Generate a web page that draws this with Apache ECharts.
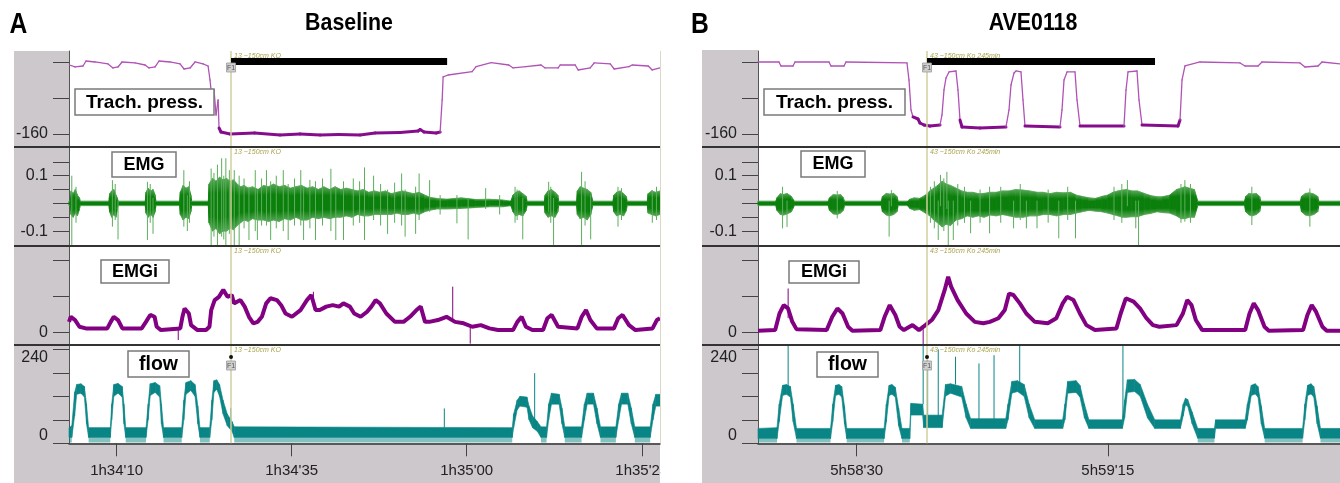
<!DOCTYPE html>
<html><head><meta charset="utf-8">
<script src="https://cdn.jsdelivr.net/npm/echarts@6/dist/echarts.min.js"></script>
<style>html,body{margin:0;padding:0;background:#fff}#c{width:1340px;height:483px}</style>
</head><body><div id="c"></div>
<script>
// ---------------- DATA (time in s from start of each recording window) ----------------
const spanA = 84.4, spanB = 104.3;
const timeTicksA = [6.8, 31.8, 56.8, 81.8];
const timeLabelsA = ["1h34'10", "1h34'35", "1h35'00", "1h35'25"];
const timeTicksB = [17.69, 62.69];
const timeLabelsB = ["5h58'30", "5h59'15"];
const markA = 23.14, markB = 30.29;          // event marker (occlusion start)
const occlA = [23.14, 54.0], occlB = [30.29, 71.15]; // black bars (occlusion period)
const markTextA = "13 ~150cm KO", markTextB = "43 ~150cm Ko 245min";

// Tracheal pressure [t, value]
const pressA = [[0.07,-6.7],[0.86,-11.1],[2.0,-8.9],[2.43,2.2],[3.71,0],[5.57,-4.4],[6.29,-13.3],[7.0,-11.1],[7.57,0],[9.43,-2.2],[10.86,-6.7],[11.43,-13.3],[12.29,-11.1],[12.86,2.2],[14.43,0],[15.86,-4.4],[16.43,-15.6],[17.29,-13.3],[18.0,0],[19.14,-4.4],[19.86,-8.9],[20.14,-40],[20.43,-84.4],[20.71,-62.2],[21.0,-117.8],[21.29,-84.4],[21.43,-146.7],[21.71,-155.6],[23.0,-160],[26.5,-158],[30.14,-162],[33,-160],[35.86,-162],[38.5,-161],[41.57,-162],[43.71,-157.8],[47.29,-156.7],[49.86,-153.3],[50.14,-150],[50.71,-155.6],[52.43,-157.8],[53.0,-155.6],[53.29,-84.4],[53.43,-33.3],[54.14,-28.9],[57.57,-21.6],[58.14,-10.4],[60.29,-1.6],[62.8,-6.7],[63.43,-13.3],[65.26,-10.4],[67.4,-6.7],[68.0,-13.3],[69.86,-13.3],[70.14,-6.7],[72.29,-6.7],[72.71,-17.8],[74.43,-13.3],[75.0,-2.2],[77.29,-4.4],[77.86,-15.6],[79.97,-10.4],[80.43,-6.7],[82.71,-8.9],[83.29,-17.8],[84.4,-13.3]];
const pressB = [[0,0],[3.76,0],[4.12,-8.9],[6.27,-8.9],[6.63,0],[12.72,0],[13.08,-8.9],[15.41,-8.9],[15.77,0],[26.7,-2.2],[27.06,-40],[27.42,-106.7],[27.78,-122.2],[28.67,-126.7],[29.03,-135.6],[29.75,-140],[30.82,-142.2],[32.62,-140],[32.97,-117.8],[33.33,-62.2],[33.69,-35.6],[34.23,-22.2],[35.48,-20],[35.84,-62.2],[36.2,-128.9],[36.56,-144.4],[39.78,-146.7],[44.44,-144.4],[44.98,-106.7],[45.34,-51.1],[45.88,-24.4],[46.24,-20],[47.13,-22.2],[47.49,-84.4],[47.85,-142.2],[54.12,-144.4],[54.48,-106.7],[54.84,-40],[55.38,-22.2],[56.81,-22.2],[57.17,-84.4],[57.71,-142.2],[65.59,-142.2],[65.95,-62.2],[66.31,-22.2],[67.92,-20],[68.28,-84.4],[68.82,-140],[75.27,-142.2],[75.63,-128.9],[75.99,-40],[76.52,-8.9],[79.21,0],[86.38,-2.2],[87.28,-8.9],[89.61,-8.9],[90.32,0],[97.13,-2.2],[98.03,-11.1],[100.36,-8.9],[101.08,0],[104.3,-4.4]];

// EMG envelope [t, low, high]
const emgA = [[0,-0.008,0.008],[0.2,-0.008,0.008],[0.3,-0.04,0.045],[0.6,-0.05,0.035],[0.9,-0.035,0.05],[1.2,-0.045,0.03],[1.5,-0.02,0.02],[1.6,-0.008,0.008],[5.7,-0.008,0.008],[5.8,-0.03,0.035],[6.1,-0.05,0.045],[6.4,-0.04,0.05],[6.7,-0.05,0.03],[6.9,-0.02,0.02],[7.0,-0.008,0.008],[10.9,-0.008,0.008],[11.0,-0.035,0.04],[11.3,-0.05,0.055],[11.7,-0.04,0.045],[12.0,-0.05,0.05],[12.3,-0.03,0.03],[12.4,-0.008,0.008],[15.8,-0.008,0.008],[15.9,-0.04,0.04],[16.3,-0.06,0.065],[16.7,-0.05,0.055],[17.1,-0.055,0.06],[17.4,-0.03,0.03],[17.5,-0.008,0.008],[19.9,-0.008,0.008],[20.0,-0.07,0.07],[20.5,-0.1,0.09],[21.0,-0.09,0.08],[21.5,-0.11,0.095],[22.0,-0.1,0.085],[22.5,-0.1,0.09],[23.0,-0.09,0.08],[23.5,-0.095,0.085],[24.0,-0.08,0.07],[24.5,-0.07,0.06],[25.0,-0.06,0.065],[25.6,-0.065,0.055],[26.2,-0.055,0.06],[27.0,-0.06,0.05],[27.8,-0.06,0.065],[28.5,-0.065,0.06],[29.2,-0.06,0.07],[30.0,-0.065,0.06],[30.8,-0.055,0.065],[31.6,-0.06,0.055],[32.4,-0.05,0.06],[33.2,-0.06,0.065],[34.0,-0.06,0.055],[34.8,-0.05,0.06],[35.6,-0.055,0.05],[36.4,-0.05,0.06],[37.2,-0.055,0.05],[38.0,-0.05,0.06],[38.8,-0.05,0.05],[39.6,-0.045,0.055],[40.4,-0.05,0.05],[41.2,-0.04,0.045],[42.0,-0.045,0.05],[42.8,-0.045,0.04],[43.6,-0.04,0.045],[44.4,-0.04,0.04],[45.2,-0.04,0.045],[46.0,-0.04,0.035],[46.8,-0.035,0.04],[47.6,-0.04,0.045],[48.4,-0.04,0.04],[49.2,-0.035,0.035],[50.0,-0.04,0.04],[50.8,-0.03,0.03],[51.5,-0.025,0.022],[52.5,-0.02,0.018],[54.0,-0.02,0.015],[56.0,-0.018,0.02],[58.0,-0.015,0.014],[60.0,-0.012,0.015],[62.0,-0.012,0.012],[63.1,-0.008,0.008],[63.4,-0.03,0.03],[63.8,-0.045,0.04],[64.3,-0.04,0.045],[64.8,-0.045,0.035],[65.3,-0.025,0.025],[65.4,-0.008,0.008],[67.9,-0.008,0.008],[68.0,-0.035,0.03],[68.4,-0.05,0.045],[68.9,-0.045,0.05],[69.4,-0.05,0.04],[69.8,-0.03,0.03],[69.9,-0.008,0.008],[72.5,-0.008,0.008],[72.6,-0.04,0.045],[73.0,-0.055,0.06],[73.5,-0.05,0.055],[74.0,-0.06,0.05],[74.5,-0.04,0.04],[74.8,-0.008,0.008],[77.7,-0.008,0.008],[77.8,-0.03,0.03],[78.2,-0.045,0.04],[78.7,-0.04,0.045],[79.2,-0.045,0.035],[79.6,-0.025,0.025],[79.7,-0.008,0.008],[82.6,-0.008,0.008],[82.7,-0.035,0.035],[83.2,-0.04,0.045],[83.8,-0.045,0.04],[84.4,-0.04,0.045]];
const emgB = [[0,-0.008,0.008],[3.2,-0.008,0.008],[3.4,-0.025,0.02],[4.0,-0.04,0.035],[4.6,-0.042,0.032],[5.2,-0.038,0.036],[6.0,-0.03,0.025],[6.5,-0.008,0.008],[12.6,-0.008,0.008],[12.8,-0.025,0.02],[13.5,-0.038,0.032],[14.2,-0.04,0.03],[14.8,-0.035,0.032],[15.3,-0.025,0.02],[15.5,-0.008,0.008],[22.1,-0.008,0.008],[22.3,-0.03,0.025],[23.0,-0.042,0.036],[23.6,-0.045,0.034],[24.3,-0.04,0.036],[24.9,-0.03,0.025],[25.1,-0.008,0.008],[26.8,-0.008,0.008],[27.2,-0.018,0.015],[28.0,-0.025,0.02],[29.0,-0.022,0.018],[30.0,-0.035,0.03],[30.8,-0.045,0.045],[31.5,-0.06,0.055],[32.2,-0.07,0.065],[33.0,-0.085,0.08],[33.7,-0.075,0.07],[34.5,-0.08,0.065],[35.5,-0.06,0.055],[36.5,-0.055,0.045],[37.5,-0.045,0.04],[38.5,-0.05,0.04],[39.5,-0.045,0.035],[40.5,-0.05,0.036],[41.6,-0.042,0.04],[42.7,-0.045,0.04],[43.8,-0.04,0.045],[45.0,-0.045,0.045],[46.2,-0.05,0.05],[47.5,-0.05,0.048],[48.7,-0.045,0.045],[50.0,-0.045,0.04],[51.1,-0.04,0.04],[52.3,-0.04,0.035],[53.5,-0.045,0.04],[54.8,-0.04,0.038],[56.0,-0.04,0.04],[57.0,-0.035,0.03],[58.1,-0.03,0.025],[59.3,-0.025,0.02],[60.5,-0.028,0.018],[61.6,-0.03,0.025],[62.7,-0.035,0.03],[63.6,-0.04,0.04],[64.5,-0.045,0.045],[65.3,-0.05,0.048],[66.0,-0.05,0.05],[67.0,-0.048,0.045],[68.0,-0.048,0.045],[69.2,-0.04,0.036],[70.4,-0.036,0.028],[71.5,-0.03,0.024],[72.5,-0.033,0.024],[73.8,-0.035,0.03],[75.0,-0.045,0.05],[75.8,-0.055,0.055],[76.5,-0.055,0.06],[77.3,-0.05,0.055],[78.2,-0.05,0.05],[78.8,-0.008,0.008],[87.2,-0.008,0.008],[87.4,-0.03,0.025],[88.0,-0.042,0.036],[88.6,-0.045,0.034],[89.3,-0.04,0.036],[89.9,-0.03,0.025],[90.1,-0.008,0.008],[97.2,-0.008,0.008],[97.4,-0.03,0.025],[98.1,-0.042,0.036],[98.8,-0.045,0.038],[99.6,-0.04,0.034],[100.3,-0.03,0.025],[100.5,-0.008,0.008],[104.3,-0.008,0.008]];
// EMG isolated spikes [t, low, high]
const emgSpikesA = [[0.4,-0.15,0.1],[1.0,-0.07,0.06],[6.2,-0.084,0.084],[6.6,-0.06,0.07],[7.0,-0.13,0.01],[11.2,-0.132,0.078],[11.6,-0.07,0.07],[12.0,-0.11,0.02],[16.4,-0.084,0.12],[16.9,-0.1,0.03],[17.2,-0.07,0.08],[20.3,-0.153,0.126],[20.7,-0.12,0.11],[21.2,-0.153,0.14],[21.8,-0.12,0.163],[22.1,-0.13,0.1],[22.4,-0.153,0.163],[22.9,-0.11,0.12],[23.6,-0.153,0.12],[24.3,-0.153,0.1],[25.0,-0.09,0.09],[25.7,-0.132,0.06],[26.6,-0.1,0.12],[26.9,-0.132,0.05],[27.5,-0.08,0.09],[28.2,-0.08,0.12],[28.8,-0.132,0.08],[29.6,-0.09,0.1],[30.6,-0.1,0.12],[31.3,-0.132,0.07],[32.2,-0.08,0.09],[33.1,-0.08,0.12],[33.5,-0.132,0.06],[34.4,-0.09,0.085],[35.2,-0.132,0.08],[36.2,-0.08,0.09],[37.4,-0.1,0.125],[38.1,-0.132,0.06],[39.2,-0.132,0.08],[40.6,-0.08,0.09],[41.5,-0.07,0.08],[42.2,-0.132,0.13],[43.5,-0.06,0.1],[44.5,-0.08,0.07],[45.5,-0.11,0.05],[46.5,-0.07,0.075],[47.5,-0.08,0.108],[48.0,-0.12,0.05],[49.5,-0.11,0.06],[50.0,-0.06,0.108],[51.5,-0.03,0.084],[53.0,-0.04,0.03],[55.4,-0.072,0.03],[57.0,-0.13,0.02],[59.5,-0.02,0.055],[61.5,-0.04,0.03],[63.7,-0.07,0.06],[64.0,-0.06,0.05],[64.8,-0.13,0.02],[68.5,-0.03,0.078],[68.8,-0.07,0.06],[69.2,-0.15,0.02],[73.2,-0.15,0.114],[73.7,-0.08,0.08],[74.5,-0.13,0.03],[78.4,-0.084,0.06],[78.9,-0.06,0.055],[83.3,-0.07,0.048],[83.9,-0.06,0.06]];
const emgSpikesB = [[4.4,-0.09,0.06],[5.2,-0.085,0.01],[14.2,-0.054,0.045],[23.5,-0.12,0.01],[23.9,-0.01,0.048],[30.9,-0.07,0.06],[31.6,-0.09,0.08],[32.3,-0.132,0.01],[32.7,-0.01,0.103],[33.3,-0.1,0.09],[33.85,-0.02,0.114],[34.1,-0.153,0.01],[35.0,-0.132,0.01],[35.8,-0.08,0.07],[37.0,-0.07,0.06],[38.1,-0.108,0.01],[39.8,-0.07,0.05],[41.5,-0.108,0.06],[43.5,-0.07,0.06],[45.8,-0.09,0.01],[47.0,-0.06,0.07],[48.1,-0.09,0.01],[50.0,-0.09,0.01],[52.0,-0.07,0.05],[53.9,-0.126,0.01],[55.5,-0.06,0.06],[56.9,-0.126,0.01],[63.8,-0.06,0.06],[65.2,-0.07,0.07],[66.2,-0.01,0.084],[67.7,-0.09,0.01],[68.2,-0.153,0.01],[75.8,-0.07,0.07],[76.5,-0.066,0.084],[77.5,-0.07,0.07],[88.5,-0.078,0.06],[98.9,-0.084,0.054]];

// Integrated EMG [t, value]
const emgiA = [[0,0.3],[0.26,0.44],[0.87,0.35],[1.49,0.165],[2.41,0.12],[5.47,0.12],[5.96,0.3],[6.39,0.44],[7.0,0.35],[7.62,0.12],[10.38,0.12],[10.99,0.3],[11.6,0.49],[12.22,0.44],[12.52,0.165],[13.14,0.074],[15.89,0.12],[16.2,0.44],[16.51,0.67],[17.12,0.53],[17.43,0.21],[18.35,0.074],[19.57,0.074],[20.06,0.165],[20.31,0.625],[20.8,0.9],[21.41,0.99],[22.03,1.18],[22.64,0.99],[23.25,1.04],[23.56,0.81],[24.48,0.9],[25.09,0.72],[25.7,0.44],[26.32,0.26],[26.93,0.3],[27.54,0.44],[28.16,0.81],[28.77,0.95],[29.69,0.9],[30.3,0.76],[30.92,0.53],[31.84,0.44],[33.06,0.625],[33.98,0.9],[34.6,1.04],[35.21,0.625],[35.82,0.625],[36.74,0.72],[37.66,0.76],[38.58,0.72],[39.19,0.81],[40.11,0.72],[40.73,0.53],[41.65,0.44],[42.57,0.58],[43.18,0.72],[43.79,0.9],[44.4,0.81],[45.32,0.53],[46.55,0.3],[47.78,0.3],[48.7,0.44],[49.62,0.625],[50.23,0.72],[50.84,0.3],[51.46,0.3],[52.68,0.35],[53.91,0.44],[55.13,0.3],[56.36,0.26],[57.59,0.165],[58.81,0.21],[60.04,0.12],[61.27,0.074],[63.41,0.074],[64.03,0.3],[64.64,0.44],[65.25,0.165],[66.17,0.074],[67.7,0.074],[68.32,0.4],[68.93,0.49],[69.85,0.165],[72.61,0.12],[73.22,0.44],[73.83,0.625],[74.45,0.35],[75.37,0.12],[77.82,0.12],[78.43,0.4],[79.05,0.49],[79.97,0.21],[80.89,0.074],[83.34,0.12],[83.95,0.35],[84.4,0.4]];
const emgiB = [[0,0.056],[3.08,0.074],[3.85,0.53],[4.61,0.76],[5.38,0.67],[6.15,0.3],[6.92,0.093],[12.31,0.074],[13.31,0.44],[14.23,0.67],[15.15,0.53],[16.15,0.165],[16.92,0.056],[21.92,0.074],[22.69,0.44],[23.61,0.76],[24.61,0.49],[25.38,0.165],[26.15,0.074],[27.15,0.165],[27.69,0.21],[28.85,0.074],[30.0,0.21],[31.15,0.35],[32.31,0.625],[33.46,1.18],[34.08,1.54],[34.61,1.27],[35.77,0.9],[37.31,0.53],[38.85,0.3],[40.38,0.26],[41.54,0.3],[43.08,0.4],[44.23,0.625],[45.0,1.08],[45.77,1.04],[46.92,0.81],[48.08,0.53],[49.61,0.3],[51.92,0.26],[53.46,0.4],[54.61,0.81],[55.38,0.99],[56.54,0.9],[57.69,0.53],[58.85,0.21],[60.38,0.074],[64.23,0.12],[65.0,0.53],[65.92,0.95],[67.31,0.86],[68.46,0.67],[69.61,0.4],[70.77,0.21],[71.92,0.165],[75.0,0.21],[76.15,0.53],[76.92,0.9],[77.69,0.76],[78.46,0.35],[79.61,0.074],[87.31,0.074],[88.08,0.53],[88.85,0.81],[89.61,0.625],[90.77,0.165],[91.54,0.056],[97.69,0.074],[98.46,0.49],[99.23,0.76],[100.0,0.58],[101.15,0.165],[101.92,0.056],[104.3,0.056]];
const emgiSpikesA = [[15.6,-0.2,0.1],[34.9,0.9,1.13],[54.8,0.3,1.27],[57.3,-0.3,0.15]];
const emgiSpikesB = [[5.4,0.4,1.22],[29.6,-0.31,0.1]];

// Airflow envelope [t, low, high]
const flowA = [[0,15,40],[0.4,15,45],[0.8,70,130],[1.1,125,150],[1.7,128,152],[2.2,118,145],[2.5,50,100],[2.8,15,40],[5.9,15,40],[6.1,60,100],[6.4,120,150],[7.0,128,153],[7.6,118,145],[7.85,50,100],[8.1,15,40],[11.0,15,40],[11.3,60,100],[11.6,122,152],[12.3,130,155],[12.95,118,147],[13.2,50,100],[13.5,15,40],[16.1,15,40],[16.4,60,110],[16.7,125,155],[17.4,135,160],[18.0,120,150],[18.4,50,95],[18.7,15,40],[20.1,15,40],[20.4,60,110],[20.7,130,160],[21.1,138,162],[21.5,120,150],[22.0,75,110],[22.6,45,75],[23.3,30,55],[23.6,15,42],[63.3,15,40],[63.5,40,75],[64.0,85,110],[64.4,95,120],[65.4,92,118],[65.7,60,95],[66.2,40,70],[66.9,30,55],[67.4,15,42],[68.2,15,42],[68.5,60,100],[68.9,100,128],[70.0,100,125],[70.4,50,90],[70.8,15,42],[73.2,15,42],[73.6,60,100],[74.0,100,128],[74.9,100,128],[75.4,50,90],[75.9,15,42],[78.1,15,42],[78.5,60,100],[78.9,100,128],[79.8,100,128],[80.3,50,90],[80.8,15,42],[83.0,15,42],[83.4,60,100],[83.8,95,125],[84.4,95,125]];
const flowB = [[0,12,38],[3.4,12,40],[3.8,55,100],[4.4,122,148],[5.1,125,150],[5.8,118,145],[6.3,55,100],[6.9,12,38],[13.0,12,38],[13.4,55,100],[13.9,122,148],[14.5,125,150],[15.0,118,145],[15.5,50,95],[15.9,12,38],[22.6,12,38],[23.0,55,100],[23.5,122,148],[24.0,125,150],[24.6,118,143],[25.2,45,90],[25.8,12,38],[27.2,12,38],[27.4,72,102],[29.5,72,100],[29.7,40,72],[33.0,40,72],[33.6,120,150],[34.5,128,152],[36.5,118,145],[37.3,65,100],[38.1,38,63],[44.4,38,63],[44.8,60,100],[45.5,128,158],[46.5,132,160],[47.7,120,150],[48.6,65,100],[49.6,38,60],[54.6,38,60],[55.0,60,100],[55.5,128,158],[57.0,130,160],[57.7,118,148],[58.5,65,100],[59.3,38,60],[65.3,38,60],[65.7,65,110],[66.2,130,162],[67.5,132,163],[68.5,120,150],[69.8,65,100],[71.1,38,60],[75.7,38,60],[76.2,70,100],[76.6,98,115],[77.0,95,112],[77.8,50,80],[78.8,13,38],[81.8,13,38],[82.0,38,60],[87.3,38,60],[87.7,60,100],[88.4,122,148],[89.1,126,152],[89.6,118,145],[90.2,50,95],[90.8,13,38],[97.6,13,38],[98.0,60,100],[98.5,122,148],[99.1,126,152],[99.6,118,145],[100.2,50,95],[100.8,13,38],[104.3,13,38]];
const flowSpikesA = [[23.1,40,90],[53.6,40,89],[66.5,60,179]];
const flowSpikesB = [[5.4,140,251],[29.6,100,251],[30.4,70,213],[32.3,70,240],[35.4,150,221],[39.6,60,204],[42.3,60,225],[46.9,150,251],[65.4,60,251]];

// axis ticks
const pressTicks = [0,-80,-160], pressLabels = [-160];
const emgTicks = [0.15,0.1,0.05,0,-0.05,-0.1], emgLabels = [0.1,-0.1];
const emgiTicks = [0,1,2], emgiLabels = [0];
const flowTicks = [0,60,120,180,240], flowLabelsLow = [0], flowLabelsHigh = [240];

// ---------------- LAYOUT ----------------
const rows = [{top:51,h:96},{top:147,h:99},{top:246,h:98},{top:345,h:98.3}];
const ranges = [[-188.9,24.4],[-0.1538,0.2036],[-0.31,2.39],[0,251]];
const panels = [{left:69, width:591, span:spanA, ticks:timeTicksA, labels:timeLabelsA},
                {left:758, width:582, span:spanB, ticks:timeTicksB, labels:timeLabelsB}];
const FONT = 'Liberation Sans, Arial, sans-serif';
const C_PRESS='#b052b6', C_PRESS_DK='#850d8c', C_EMG2='#5cae5c', C_EMGI='#820082', C_FLOW='#0a8585', C_MARK='#d2cf9c';
const EMG_FILL = {type:'linear', x:0, y:0, x2:0, y2:1, colorStops:[
  {offset:0, color:'#58a858'},{offset:0.28, color:'#0b7f0b'},{offset:0.72, color:'#0b7f0b'},{offset:1, color:'#58a858'}]};

const grids=[], xAxes=[], yAxes=[], series=[];
panels.forEach((p,pi)=>{
  rows.forEach((r,ri)=>{
    const gi = pi*4+ri;
    grids.push({left:p.left, top:r.top, width:p.width, height:r.h, containLabel:false, outerBoundsMode:'none'});
    const bottom = ri===3;
    xAxes.push({type:'value', gridIndex:gi, min:0, max:p.span, show:true,
      axisLine:{show:bottom, onZero:false, lineStyle:{color:'#333', width:1.5}},
      axisTick:{show:bottom, length:13, customValues:p.ticks, lineStyle:{color:'#444', width:1}},
      axisLabel:{show:bottom, customValues:p.ticks, fontSize:15, color:'#222', margin:20, fontFamily:FONT,
        formatter:(v)=>{const k=p.ticks.findIndex(x=>Math.abs(x-v)<1e-6); return k>=0?p.labels[k]:'';}},
      splitLine:{show:false}});
  });
});
function yAx(gi, ri, ticks, labels, extra){
  return Object.assign({type:'value', gridIndex:gi, position:'left', min:ranges[ri][0], max:ranges[ri][1], splitLine:{show:false},
    axisLine:{show:true, onZero:false, lineStyle:{color:'#555', width:1}},
    axisTick:{show:true, length:16, customValues:ticks, lineStyle:{color:'#444', width:1}},
    axisLabel:{show:true, customValues:labels, fontSize:16, color:'#222', margin:21, fontFamily:FONT,
      formatter:(v)=>String(v)}}, extra||{});
}
[0,1].forEach(pi=>{
  yAxes.push(yAx(pi*4+0,0,pressTicks,pressLabels));
  yAxes.push(yAx(pi*4+1,1,emgTicks,emgLabels));
  yAxes.push(yAx(pi*4+2,2,emgiTicks,emgiLabels));
  const f = yAx(pi*4+3,3,flowTicks,flowLabelsLow); f.axisLabel.verticalAlign='bottom';
  yAxes.push(f);
});
// extra y axes for the top flow labels (index 8, 9)
[0,1].forEach(pi=>{
  const f = yAx(pi*4+3,3,[],flowLabelsHigh);
  f.axisLine={show:false}; f.axisTick={show:false}; f.axisLabel.verticalAlign='top';
  yAxes.push(f);
});

function markLineFor(m){ return {silent:true, symbol:'none', animation:false, label:{show:false},
  lineStyle:{color:C_MARK, width:1.5, type:'solid'}, data:[{xAxis:m}]}; }

// pressure trace: thin light line, thicker dark line while the trachea is occluded (deep negative)
function pressSeries(gi, data, mark){
  return {type:'custom', xAxisIndex:gi, yAxisIndex:gi, data:data, encode:{x:0,y:1}, silent:true, animation:false, z:3,
    markLine:markLineFor(mark),
    renderItem:(params, api)=>{
      const i = params.dataIndex; if (i >= data.length-1) return null;
      const a = data[i], b = data[i+1];
      const deep = a[1] < -120 && b[1] < -120;
      const p1 = api.coord(a), p2 = api.coord(b);
      return {type:'line', shape:{x1:p1[0],y1:p1[1],x2:p2[0],y2:p2[1]},
        style:{stroke: deep ? C_PRESS_DK : C_PRESS, lineWidth: deep ? 3 : 1.3, lineCap:'round'}};
    }};
}
function bandSeries(gi, data, color, comb){
  return {type:'custom', xAxisIndex:gi, yAxisIndex:gi, data:data, encode:{x:0,y:[1,2]}, silent:true, animation:false, z:3,
    renderItem:(params, api)=>{
      const i = params.dataIndex; if (i >= data.length-1) return null;
      const a = data[i], b = data[i+1];
      const children = [];
      if (comb && a[1] <= 20 && b[1] <= 20) {
        children.push({type:'polygon', shape:{points:[api.coord([a[0],a[1]]),api.coord([b[0],b[1]]),api.coord([b[0],comb]),api.coord([a[0],comb])]},
          style:{fill:'rgba(10,133,133,0.5)'}});
      }
      children.push({type:'polygon', shape:{points:[api.coord([a[0],a[2]]),api.coord([b[0],b[2]]),api.coord([b[0],b[1]]),api.coord([a[0],a[1]])]},
        style:{fill:color, stroke:color, lineWidth:0.6}});
      return {type:'group', children};
    }};
}
function spikeSeries(gi, yi, data, color, w){
  return {type:'custom', xAxisIndex:gi, yAxisIndex:yi, data:data, encode:{x:0,y:[1,2]}, silent:true, animation:false, z:4,
    renderItem:(params, api)=>{
      const d = data[params.dataIndex];
      const p1 = api.coord([d[0], d[1]]), p2 = api.coord([d[0], d[2]]);
      return {type:'line', shape:{x1:p1[0], y1:p1[1], x2:p2[0], y2:p2[1]}, style:{stroke:color, lineWidth:w}};
    }};
}

const setA = {press:pressA, emg:emgA, emgS:emgSpikesA, emgi:emgiA, emgiS:emgiSpikesA, flow:flowA, flowS:flowSpikesA, mark:markA, occl:occlA};
const setB = {press:pressB, emg:emgB, emgS:emgSpikesB, emgi:emgiB, emgiS:emgiSpikesB, flow:flowB, flowS:flowSpikesB, mark:markB, occl:occlB};
[setA,setB].forEach((s,pi)=>{
  const g = pi*4;
  series.push(pressSeries(g, s.press, s.mark));
  series.push({type:'line', xAxisIndex:g, yAxisIndex:g, data:[[s.occl[0],1.1],[s.occl[1],1.1]], showSymbol:false, animation:false, z:5,
    lineStyle:{color:'#000', width:7, cap:'butt'}});
  series.push(Object.assign(bandSeries(g+1, s.emg, EMG_FILL), {markLine:markLineFor(s.mark)}));
  series.push(spikeSeries(g+1, g+1, s.emgS, C_EMG2, 1));
  series.push({type:'line', xAxisIndex:g+2, yAxisIndex:g+2, data:s.emgi, showSymbol:false, animation:false, z:3,
    lineStyle:{color:C_EMGI, width:4}, markLine:markLineFor(s.mark)});
  series.push(spikeSeries(g+2, g+2, s.emgiS, C_EMGI, 1));
  series.push(Object.assign(bandSeries(g+3, s.flow, C_FLOW, 2), {markLine:markLineFor(s.mark)}));
  series.push(spikeSeries(g+3, g+3, s.flowS, C_FLOW, 1));
});

const chart = echarts.init(document.getElementById('c'));
chart.setOption({animation:false, backgroundColor:'#fff', grid:grids, xAxis:xAxes, yAxis:yAxes, series:series});

// ---------------- DECORATION ----------------
const GRAY = '#ccc8cc';
const gfx = [];
function rect(x,y,w,h,fill,z){ gfx.push({type:'rect', shape:{x,y,width:w,height:h}, style:{fill}, z:z, silent:true}); }
function line(x1,y1,x2,y2,stroke,w,z){ gfx.push({type:'line', shape:{x1,y1,x2,y2}, style:{stroke, lineWidth:w}, z:z, silent:true}); }
function text(x,y,t,opt,extra){ gfx.push(Object.assign({type:'text', x, y, z:60, silent:true, style:Object.assign({text:t, fontFamily:FONT, fill:'#000'}, opt)}, extra||{})); }
// gray frame areas
rect(14,51,55,432,GRAY,-10); rect(14,443,646,40,GRAY,-10);
rect(702,50,56,433,GRAY,-10); rect(702,443,638,40,GRAY,-10);
// panel separators
[147,246,345].forEach(y=>{ line(14,y,660,y,'#333',2,50); line(702,y,1340,y,'#333',2,50); });
line(660.5,51,660.5,443,'#ddd8c6',1,50);
// clip of the last A time label
rect(661,443,41,40,'#fff',100);
// titles
const TF = {fontSize:29,fontWeight:'bold',align:'center',verticalAlign:'middle'};
text(18.5,25,'A',TF,{scaleX:0.85});
text(700,25,'B',TF,{scaleX:0.85});
text(349,23,'Baseline',{fontSize:24,fontWeight:'bold',align:'center',verticalAlign:'middle'},{scaleX:0.89});
text(1033,23,'AVE0118',{fontSize:24,fontWeight:'bold',align:'center',verticalAlign:'middle'},{scaleX:0.89});
// signal name boxes
function box(x,y,w,h,t,fs){
  gfx.push({type:'rect', shape:{x,y,width:w,height:h}, style:{fill:'#fff', stroke:'#7a7a7a', lineWidth:1.5}, z:58, silent:true});
  text(x+w/2, y+h/2+0.5, t, {fontSize:fs, fontWeight:'bold', align:'center', verticalAlign:'middle'});
}
box(75,89,139,26,'Trach. press.',19); box(112,152,64,25,'EMG',18); box(101,260,68,23,'EMGi',18); box(128,351,61,26,'flow',19.5);
box(764,89,141,26,'Trach. press.',19); box(801,151,64,26,'EMG',18); box(789,261,70,22,'EMGi',18); box(817,352,61,25,'flow',19.5);
// marker annotations
[[markA,0,markTextA],[markB,4,markTextB]].forEach(([m,g,t])=>{
  const x = chart.convertToPixel({gridIndex:g},[m,0])[0];
  rows.forEach(r=>{ text(x+3, r.top+5, t, {fontSize:7, fontStyle:'italic', fill:'#a8a24a', verticalAlign:'middle'}); });
  [[rows[0].top+12],[rows[3].top+16]].forEach(([yy],k)=>{
    gfx.push({type:'rect', shape:{x:x-4.5,y:yy,width:9,height:9}, style:{fill:'#cfcfcf', stroke:'#999', lineWidth:0.8}, z:61, silent:true});
    text(x, yy+4.8, 'F1', {fontSize:7, fill:'#555', align:'center', verticalAlign:'middle'});
    gfx[gfx.length-1].z = 62;
    if (k===1) gfx.push({type:'circle', shape:{cx:x, cy:yy-4, r:2}, style:{fill:'#111'}, z:62, silent:true});
  });
});
chart.setOption({graphic:{elements:gfx}});
</script></body></html>
